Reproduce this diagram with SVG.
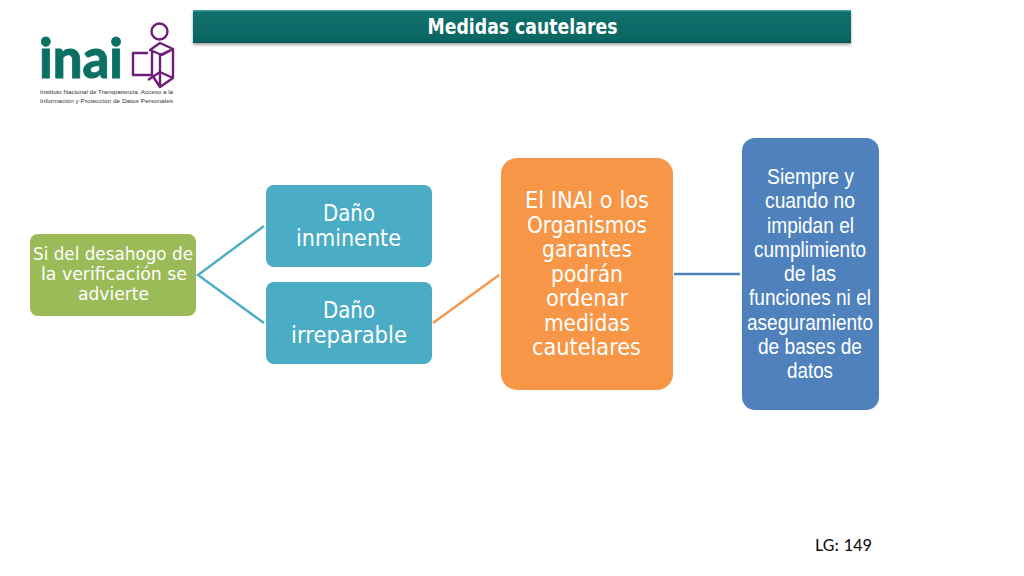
<svg xmlns="http://www.w3.org/2000/svg" width="1024" height="576" viewBox="0 0 1024 576">
<defs>
<linearGradient id="bar" x1="0" y1="0" x2="0" y2="1"><stop offset="0" stop-color="#5aa8a3"/><stop offset=".07" stop-color="#0e706c"/><stop offset=".92" stop-color="#066662"/><stop offset="1" stop-color="#0a4f4c"/></linearGradient>
<filter id="sh" x="-2%" y="-20%" width="104%" height="150%"><feDropShadow dx="0" dy="2" stdDeviation="1.5" flood-color="#000" flood-opacity=".35"/></filter>
</defs>
<style>
.t{font-family:"DejaVu Sans",sans-serif;fill:#fff;text-anchor:middle}
.m{font-size:18px}
.l{font-size:22.5px}
.a{font-family:"Liberation Sans",Arial,sans-serif;fill:#fff;text-anchor:middle;font-size:22.5px}
.c{fill:none;stroke-width:2.4}
.p{fill:none;stroke:#6e1e78;stroke-width:2.4;stroke-linejoin:round}
.s{font-family:"Liberation Sans",Arial,sans-serif;font-size:6.2px;fill:#333}
</style>
<rect width="1024" height="576" fill="#fff"/>
<g id="title"><rect x="193" y="10" width="658" height="33" fill="url(#bar)" filter="url(#sh)"/>
<text class="t" x="522.5" y="34" font-size="21" font-weight="700" textLength="190" lengthAdjust="spacingAndGlyphs">Medidas cautelares</text></g>
<g id="logo">
<text x="39" y="78" font-family="Lato,'Noto Sans',sans-serif" font-weight="900" font-size="55" fill="#0b6f63" stroke="#0b6f63" stroke-width=".8" textLength="84" lengthAdjust="spacingAndGlyphs">inai</text>
<circle class="p" cx="159.5" cy="31.5" r="8"/>
<path class="p" d="M160 43 L173 49 L162 55 L150 50 Z M148 53 L133 53 L133 75 L152 75 L152 50 M160 55 L173 49 L173 78 L160 87 Z M152 75 L160 87 M148 80 L160 72 L173 78 M160 72 L160 55"/>
<text class="s" x="40" y="94" textLength="133" lengthAdjust="spacingAndGlyphs">Instituto Nacional de Transparencia, Acceso a la</text>
<text class="s" x="40" y="103" textLength="133" lengthAdjust="spacingAndGlyphs">Información y Protección de Datos Personales</text>
</g>
<g id="connectors">
<path class="c" stroke="#4bacc6" d="M264 226 L198 275 L264 323"/>
<path class="c" stroke="#f79646" d="M433 323 L499 275"/>
<path class="c" stroke="#4f81bd" d="M674 274 L740 274"/>
</g>
<g id="n1"><rect x="30" y="234" width="166" height="82" rx="8" fill="#9bbb59"/>
<text class="t m" x="113" y="260" textLength="160" lengthAdjust="spacingAndGlyphs">Si del desahogo de</text>
<text class="t m" x="114" y="280" textLength="146" lengthAdjust="spacingAndGlyphs">la verificación se</text>
<text class="t m" x="113.5" y="300" textLength="71" lengthAdjust="spacingAndGlyphs">advierte</text></g>
<g id="n2"><rect x="266" y="185" width="166" height="82" rx="8" fill="#4bacc6"/>
<text class="t l" x="349" y="221" textLength="52" lengthAdjust="spacingAndGlyphs">Daño</text>
<text class="t l" x="348.5" y="246" textLength="105" lengthAdjust="spacingAndGlyphs">inminente</text></g>
<g id="n3"><rect x="266" y="282" width="166" height="82" rx="8" fill="#4bacc6"/>
<text class="t l" x="349" y="318" textLength="52" lengthAdjust="spacingAndGlyphs">Daño</text>
<text class="t l" x="349" y="343" textLength="116" lengthAdjust="spacingAndGlyphs">irreparable</text></g>
<g id="n4"><rect x="501" y="158" width="172" height="232" rx="16" fill="#f79646"/>
<text class="t l" x="587" y="208" textLength="124" lengthAdjust="spacingAndGlyphs">El INAI o los</text>
<text class="t l" x="587" y="232.5" textLength="120" lengthAdjust="spacingAndGlyphs">Organismos</text>
<text class="t l" x="587" y="257" textLength="90" lengthAdjust="spacingAndGlyphs">garantes</text>
<text class="t l" x="587" y="281.5" textLength="72" lengthAdjust="spacingAndGlyphs">podrán</text>
<text class="t l" x="587" y="306" textLength="82" lengthAdjust="spacingAndGlyphs">ordenar</text>
<text class="t l" x="587" y="330.5" textLength="86" lengthAdjust="spacingAndGlyphs">medidas</text>
<text class="t l" x="586.5" y="355" textLength="109" lengthAdjust="spacingAndGlyphs">cautelares</text></g>
<g id="n5"><rect x="742" y="138" width="137" height="272" rx="13" fill="#4f81bd"/>
<text class="a" x="810.5" y="184" textLength="87" lengthAdjust="spacingAndGlyphs">Siempre y</text>
<text class="a" x="810" y="208" textLength="90" lengthAdjust="spacingAndGlyphs">cuando no</text>
<text class="a" x="810.5" y="233" textLength="87" lengthAdjust="spacingAndGlyphs">impidan el</text>
<text class="a" x="810" y="257" textLength="112" lengthAdjust="spacingAndGlyphs">cumplimiento</text>
<text class="a" x="810" y="281" textLength="52" lengthAdjust="spacingAndGlyphs">de las</text>
<text class="a" x="810" y="305" textLength="122" lengthAdjust="spacingAndGlyphs">funciones ni el</text>
<text class="a" x="810" y="330" textLength="126" lengthAdjust="spacingAndGlyphs">aseguramiento</text>
<text class="a" x="810" y="354" textLength="104" lengthAdjust="spacingAndGlyphs">de bases de</text>
<text class="a" x="810" y="378" textLength="46" lengthAdjust="spacingAndGlyphs">datos</text></g>
<text id="lg" x="843.5" y="551" font-family="Carlito,'Open Sans','Noto Sans',sans-serif" font-size="18.5" fill="#111" text-anchor="middle">LG: 149</text>
</svg>
